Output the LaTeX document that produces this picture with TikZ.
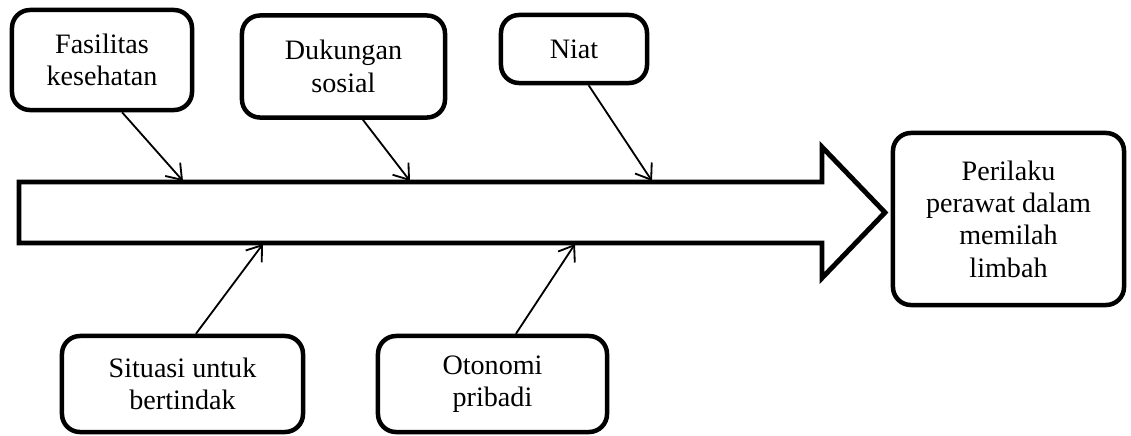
\documentclass[tikz,border=0pt]{standalone}
\usepackage{fontspec}
\setmainfont{Liberation Serif}
\usetikzlibrary{arrows.meta}

\begin{document}
\begin{tikzpicture}[x=0.025cm,y=-0.025cm,
  factor/.style={draw,line width=3.2pt,rounded corners=0.45cm,align=center,
    font=\fontsize{20}{23}\selectfont,inner sep=0pt},
  cause/.style={line width=1.3pt,
    -{Straight Barb[length=0.35cm,width=0.5cm,line width=1.3pt]}}]
  \useasboundingbox (0,0) rectangle (1131,435);

  % the main arrow
  \draw[line width=3.5pt,line join=miter]
    (19,182) -- (822,182) -- (822,147) -- (885,212.5) -- (822,278)
    -- (822,243) -- (19,243) -- cycle;
  \coordinate (top1) at (183,181);
  \coordinate (top2) at (410,181);
  \coordinate (top3) at (652,181);
  \coordinate (bot1) at (263,244);
  \coordinate (bot2) at (575,244);

  % factors above
  \node[factor,minimum width=4.5cm,minimum height=2.5cm] (fasilitas) at (102,60)
    {Fasilitas\\kesehatan};
  \node[factor,minimum width=5.075cm,minimum height=2.55cm] (dukungan) at (343.5,66.5)
    {Dukungan\\sosial};
  \node[factor,minimum width=3.65cm,minimum height=1.7cm] (niat) at (574,49)
    {Niat};

  % factors below
  \node[factor,minimum width=6.025cm,minimum height=2.4cm] (situasi) at (182.5,384)
    {Situasi untuk\\bertindak};
  \node[factor,minimum width=5.725cm,minimum height=2.4cm] (otonomi) at (492.5,384)
    {Otonomi\\pribadi};

  % outcome
  \node[factor,minimum width=5.775cm,minimum height=4.3cm] (perilaku) at (1008.5,219)
    {Perilaku\\perawat dalam\\memilah\\limbah};

  \draw[cause] (fasilitas.-69) -- (top1);
  \draw[cause] (dukungan.-70) -- (top2);
  \draw[cause] (niat.-68) -- (top3);
  \draw[cause] (situasi.75) -- (bot1);
  \draw[cause] (otonomi.65) -- (bot2);
\end{tikzpicture}
\end{document}
